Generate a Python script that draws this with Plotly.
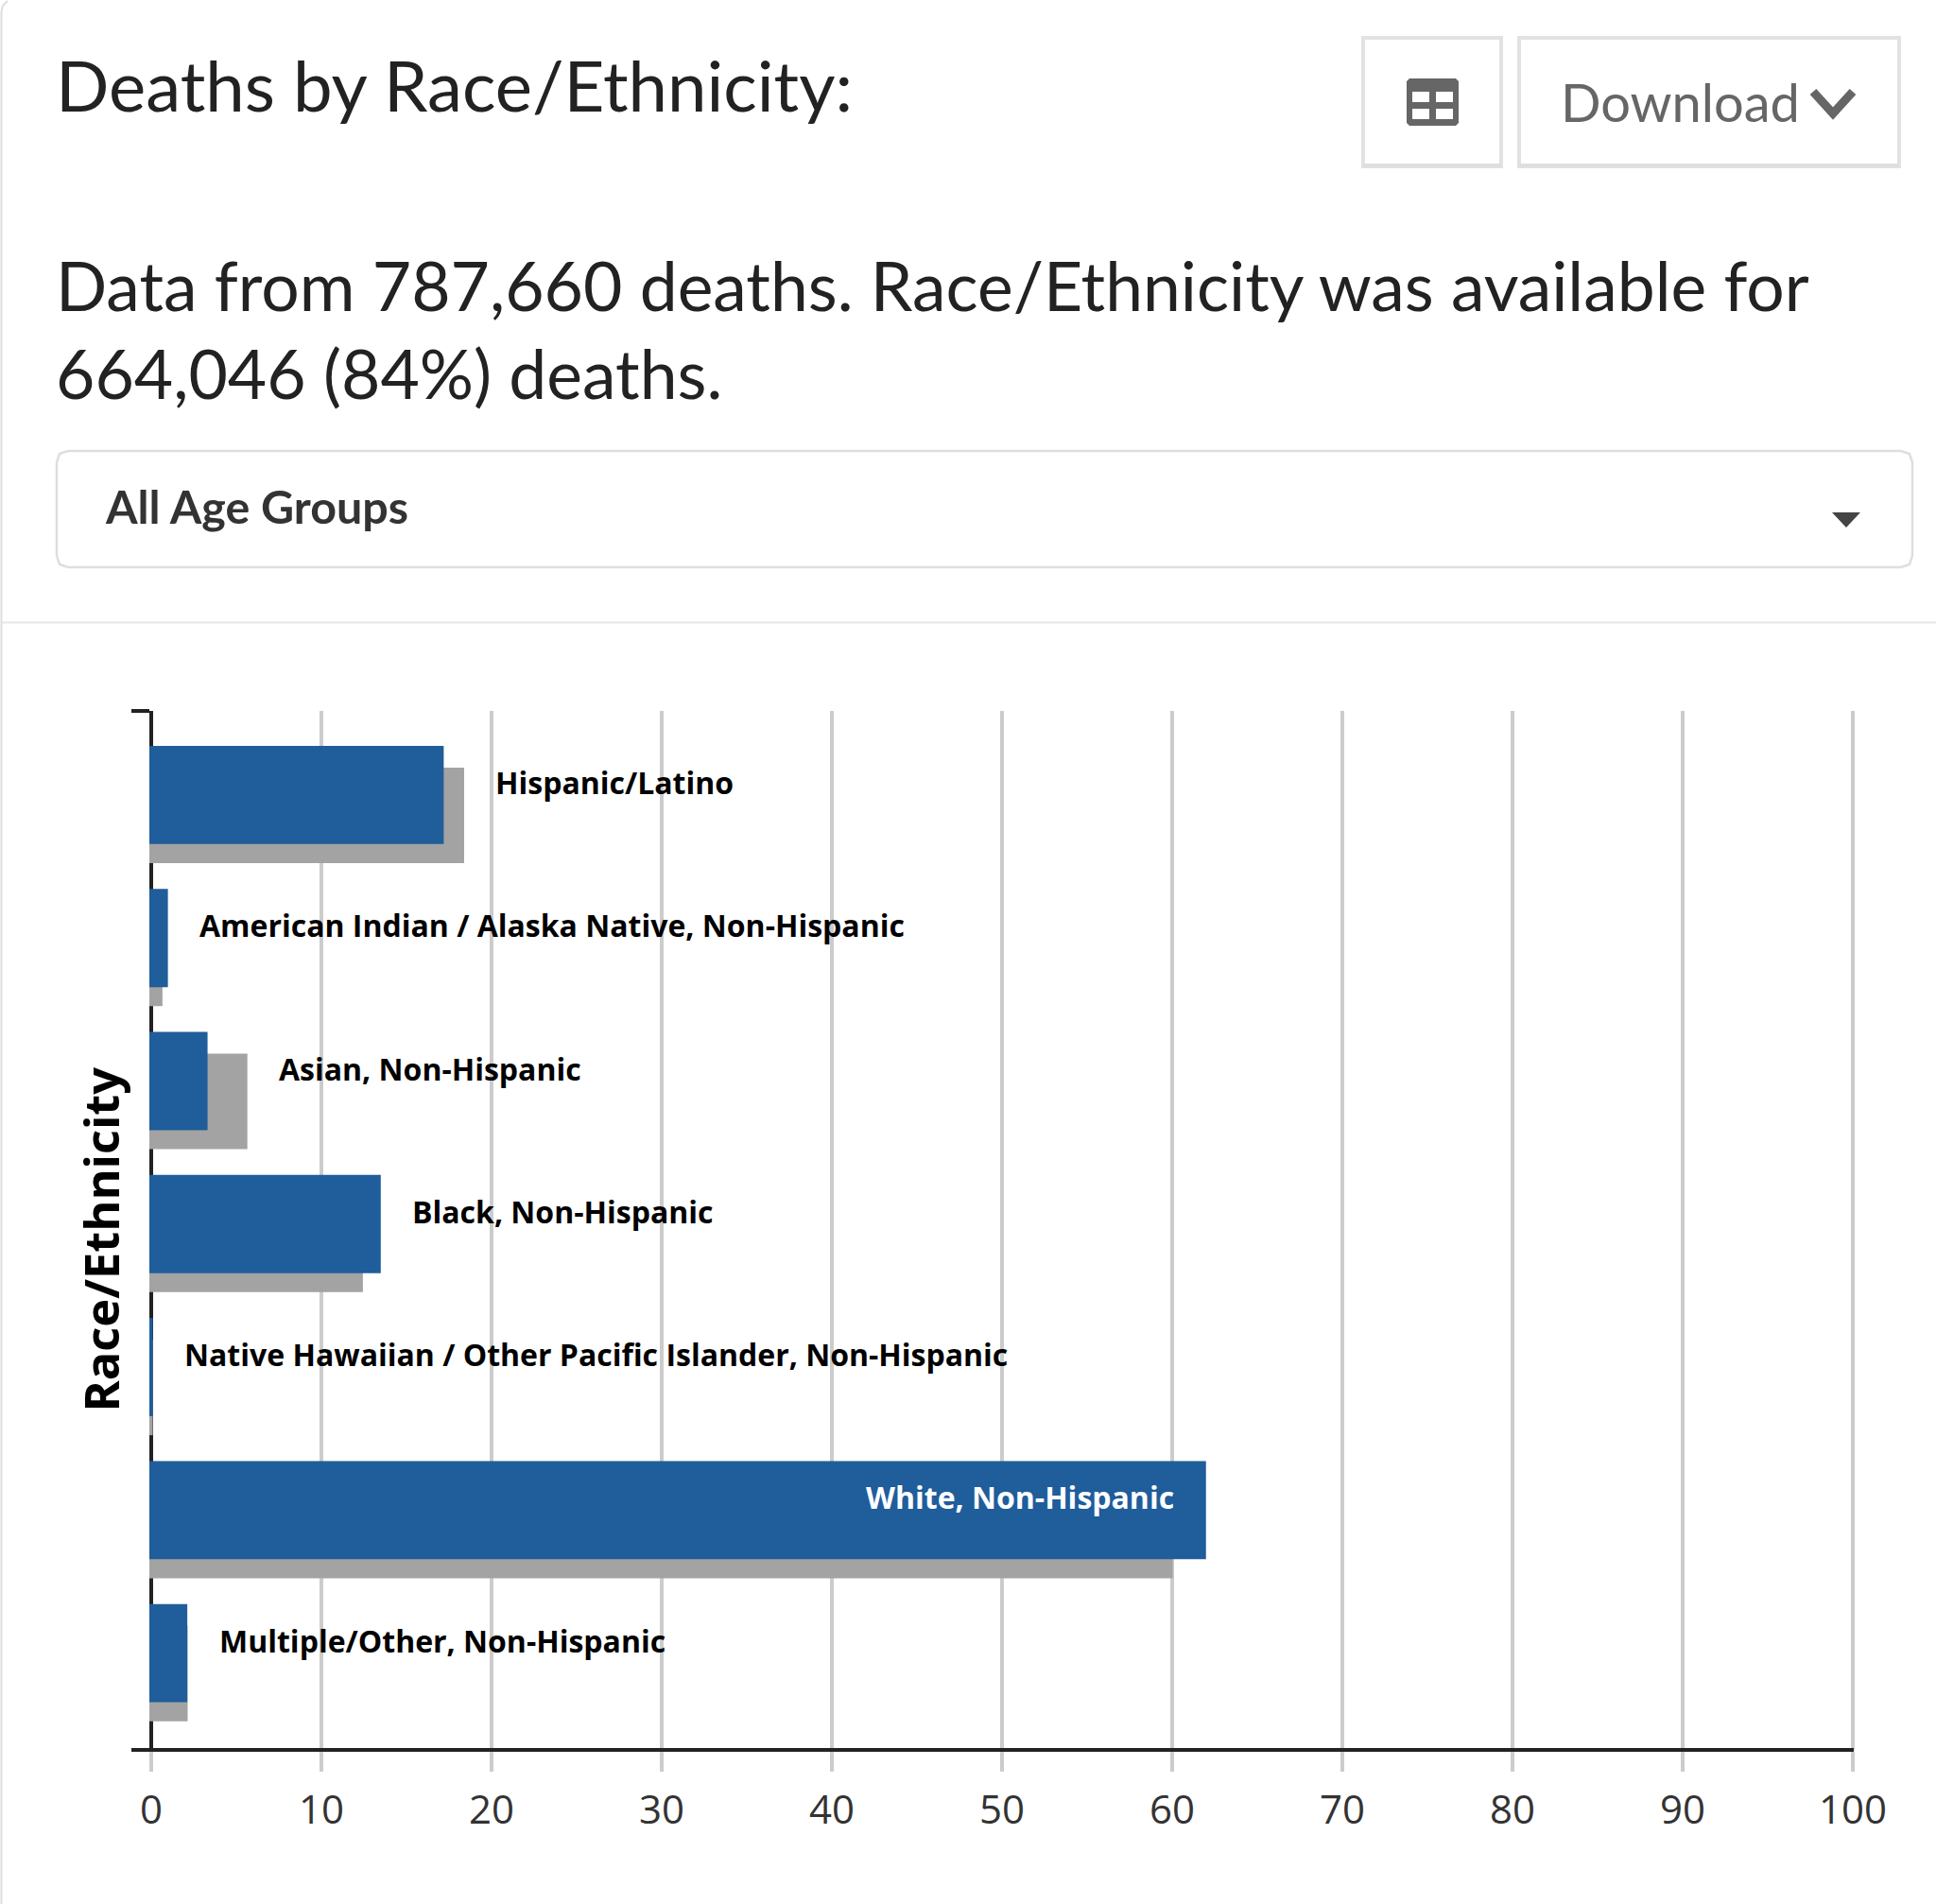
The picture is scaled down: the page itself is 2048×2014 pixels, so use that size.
import plotly.graph_objects as go

categories = ["Hispanic/Latino", "American Indian / Alaska Native, Non-Hispanic", "Asian, Non-Hispanic",
              "Black, Non-Hispanic", "Native Hawaiian / Other Pacific Islander, Non-Hispanic",
              "White, Non-Hispanic", "Multiple/Other, Non-Hispanic"]
deaths_pct = [17.3, 1.09, 3.42, 13.6, 0.2, 62.1, 2.23]
population_pct = [18.5, 0.77, 5.76, 12.55, 0.2, 60.15, 2.25]
x_ticks = [0, 10, 20, 30, 40, 50, 60, 70, 80, 90, 100]

W, H = 2048, 2014
L, R, T, B = 158, 1961.0, 752, 1851
BASE = -0.111
px = lambda x: (x - L) / (R - L)
py = lambda y: (B - y) / (B - T)

fig = go.Figure()
fig.add_bar(y=categories, x=population_pct, base=BASE, orientation="h", name="Population",
            marker=dict(color="#a3a3a3", line_width=0), width=0.668, offset=-0.192)
fig.add_bar(y=categories, x=deaths_pct, base=BASE, orientation="h", name="Deaths",
            marker=dict(color="#1f5d9b", line_width=0), width=0.687, offset=-0.344)

ann = []
LABEL = dict(family="Open Sans", size=32, color="#000000", weight=700)
for cat, d, p in zip(categories, deaths_pct, population_pct):
    if d > 50:
        ann.append(dict(x=BASE + d, y=cat, xref="x", yref="y", text=cat, showarrow=False, xanchor="right",
                        xshift=-32, yshift=13.5, font={**LABEL, "color": "#ffffff"}))
    else:
        ann.append(dict(x=BASE + max(d, p), y=cat, xref="x", yref="y", text=cat, showarrow=False, xanchor="left",
                        xshift=31, yshift=13.5, font=LABEL))


def text(t, x, y, size, color, family="Lato", weight=400, anchor="left", angle=0):
    ann.append(dict(x=px(x), y=py(y), xref="paper", yref="paper", text=t, showarrow=False, xanchor=anchor,
                    yanchor="middle", textangle=angle,
                    font=dict(family=family, size=size, color=color, weight=weight)))


text("Deaths by Race/Ethnicity:", 57, 89.5, 74.3, "#222222")
text("Data from 787,660 deaths. Race/Ethnicity was available for", 57, 301.5, 71.4, "#222222")
text("664,046 (84%) deaths.", 57, 394.5, 71.4, "#222222")
text("Download", 1649, 107.5, 56, "#666666")
text("All Age Groups", 109, 535, 48.4, "#333333", weight=700)
text("Race/Ethnicity", 105.5, 1311, 50.5, "#000000", family="Open Sans", weight=700, anchor="center", angle=-90)

shapes = []


def rect(x0, y0, x1, y1, line=None, fill=None, lw=0):
    shapes.append(dict(type="rect", xref="paper", yref="paper", x0=px(x0), x1=px(x1), y0=py(y0), y1=py(y1),
                       line=dict(color=line or "rgba(0,0,0,0)", width=lw), fillcolor=fill or "rgba(0,0,0,0)",
                       layer="below"))


def path(points, close=False, line=None, fill=None, lw=0):
    d = "M" + " L".join(f"{px(x):.5f},{py(y):.5f}" for x, y in points) + (" Z" if close else "")
    shapes.append(dict(type="path", xref="paper", yref="paper", path=d,
                       line=dict(color=line or "rgba(0,0,0,0)", width=lw), fillcolor=fill or "rgba(0,0,0,0)",
                       layer="below"))


# page frame
path([(1.5, 2014), (1.5, 12), (3, 6), (8, 1)], line="#dddddd", lw=2)
path([(2, 658.5), (2048, 658.5)], line="#e6e6e6", lw=2)
# buttons
rect(1442, 40, 1588, 176, line="#e2e2e2", lw=4)
rect(1607, 40, 2009, 176, line="#e2e2e2", lw=4)
path([(1442, 175), (1588, 175)], line="#dedede", lw=4)
path([(1607, 175), (2009, 175)], line="#dedede", lw=4)
# table icon
path([(1491, 83), (1540, 83), (1543, 86), (1543, 130), (1540, 133), (1491, 133), (1488, 130), (1488, 86)],
     close=True, fill="#666666")
for a, b in [(1494, 1512), (1519, 1537)]:
    for c, d_ in [(97, 108), (115, 126)]:
        rect(a, c, b, d_, fill="#ffffff")
# chevron
path([(1918, 97), (1939, 120), (1960, 97)], line="#666666", lw=9)
# dropdown
x0, x1, y0, y1, r = 60, 2023, 477, 600, 12
path([(x0 + r, y0), (x1 - r, y0), (x1 - 3, y0 + 3), (x1, y0 + r), (x1, y1 - r), (x1 - 3, y1 - 3), (x1 - r, y1),
      (x0 + r, y1), (x0 + 3, y1 - 3), (x0, y1 - r), (x0, y0 + r), (x0 + 3, y0 + 3)], close=True, line="#dedede", lw=2.5)
path([(1938, 542), (1968, 542), (1953, 558)], close=True, fill="#444444")

fig.update_layout(
    width=W, height=H, autosize=False, barmode="overlay", showlegend=False,
    paper_bgcolor="#ffffff", plot_bgcolor="#ffffff",
    margin=dict(l=L, r=W - R, t=T, b=H - B, autoexpand=False),
    annotations=ann, shapes=shapes,
    xaxis=dict(range=[BASE, 100.06], tickvals=x_ticks, ticks="outside", ticklen=21, tickwidth=3.5, tickcolor="#cccccc",
               showgrid=True, gridcolor="#cccccc", gridwidth=3.5, zeroline=False, showline=True, linecolor="#222222",
               linewidth=3.5, tickfont=dict(family="Open Sans", size=42, color="#333333"), layer="below traces",
               anchor="free", position=0, ticklabelstandoff=5),
    yaxis=dict(type="category", categoryorder="array", categoryarray=categories, range=[6.676, -0.588],
               tickmode="array", tickvals=[-0.588, 6.676], ticktext=["", ""], ticks="outside", ticklen=19.5, tickwidth=3.5,
               tickcolor="#222222", showgrid=False, zeroline=False, showline=True, linecolor="#222222", linewidth=3.5,
               layer="below traces", anchor="free", position=2 / (R - L)),
)
fig.write_html("out.html", config={"displayModeBar": False},
               post_script="document.body.style.margin='0';document.body.style.overflow='hidden';")
